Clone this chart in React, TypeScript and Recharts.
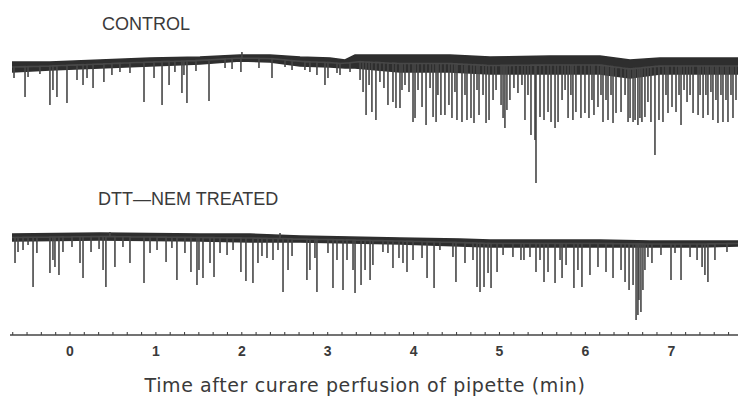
import React from 'react';
import { ComposedChart, Line, Area, XAxis, YAxis, Label } from 'recharts';

// Time is in seconds after curare perfusion of the pipette; current levels are
// in arbitrary units relative to each trace's holding level (down = inward).

// Noise envelope of the control record: [time s, upper level, lower level]
const CONTROL_BAND: [number, number, number][] = [
  [-40.5, 2, -8], [-14.0, 2, -6], [21.0, 4, -4], [55.9, 6, -2], [90.8, 7, 0],
  [118.7, 9, 3], [139.7, 9, 2], [160.7, 7, -2], [181.6, 6, -3], [192.1, 4, -4],
  [199.1, 9, -4], [230.5, 9, -8], [265.4, 9, -8], [293.4, 7, -10], [335.3, 8, -10],
  [370.2, 8, -10], [391.2, 4, -14], [412.1, 6, -10], [440.1, 6, -10], [466.6, 6, -10],
];

// Control events: [time s, peak level]
const CONTROL_EVENTS: [number, number][] = [
  [-39.1, -14], [-31.4, -33], [-29.3, -13], [-21.0, -10], [-14.0, -41], [-11.9, -26],
  [-9.1, -33], [-2.1, -39], [4.9, -16], [9.1, -21], [11.9, -14], [16.1, -24],
  [23.7, -18], [29.3, -11], [34.9, -8], [41.9, -9], [51.7, -38], [58.7, -14],
  [64.3, -41], [69.2, -21], [73.3, -8], [78.2, -29], [79.6, -11], [81.7, -39],
  [88.0, -7], [97.1, -37], [108.3, -4], [113.2, -5], [119.4, -8], [120.1, 12],
  [132.0, -4], [141.1, -14], [150.2, -3], [155.1, -6], [164.1, -6], [167.6, -8],
  [172.5, -11], [178.1, -21], [180.2, -14], [186.5, -9], [188.6, -11], [195.6, -8],
  [202.6, -16], [204.7, -28], [206.8, -51], [208.9, -21], [210.9, -48], [213.7, -56],
  [216.5, -18], [219.3, -24], [222.1, -41], [225.6, -38], [227.7, -44], [230.5, -44],
  [231.9, -26], [234.0, -21], [236.8, -28], [239.6, -58], [241.0, -54], [243.1, -26],
  [245.9, -43], [248.7, -61], [251.5, -24], [253.6, -53], [255.7, -58], [257.0, -31],
  [259.1, -51], [261.9, -51], [264.7, -41], [266.8, -54], [268.9, -28], [270.3, -56],
  [273.8, -58], [275.9, -31], [277.3, -56], [280.1, -54], [282.2, -59], [284.3, -26],
  [285.7, -51], [288.5, -31], [290.6, -59], [292.7, -56], [295.5, -36], [297.6, -26],
  [301.1, -41], [302.5, -54], [303.8, -64], [305.2, -46], [307.3, -36], [310.1, -24],
  [312.9, -29], [315.7, -21], [317.8, -56], [319.9, -31], [322.0, -71], [324.8, -76],
  [325.5, -119], [328.3, -53], [331.1, -56], [333.9, -48], [336.0, -58], [338.8, -64],
  [340.9, -58], [343.7, -36], [345.8, -26], [347.9, -54], [349.9, -31], [351.3, -56],
  [353.4, -48], [356.9, -54], [359.7, -49], [362.5, -54], [364.6, -36], [366.0, -51],
  [368.8, -43], [370.9, -31], [372.3, -58], [374.4, -36], [375.8, -56], [377.9, -31],
  [379.3, -59], [381.4, -49], [384.9, -48], [387.7, -31], [389.8, -58], [391.2, -54],
  [393.3, -58], [394.7, -56], [396.7, -61], [398.1, -54], [399.5, -58], [401.6, -53],
  [403.7, -38], [405.8, -58], [408.6, -91], [411.4, -56], [414.2, -58], [416.3, -31],
  [417.7, -49], [420.5, -43], [423.3, -48], [425.4, -31], [426.8, -61], [428.9, -26],
  [431.0, -38], [433.1, -31], [435.2, -49], [438.7, -51], [440.1, -31], [442.2, -54],
  [444.2, -31], [445.6, -51], [447.7, -28], [449.1, -56], [451.2, -36], [452.6, -59],
  [454.7, -31], [456.1, -58], [458.2, -36], [459.6, -58], [461.7, -31], [463.1, -54],
  [465.2, -36],
];

// Noise envelope of the DTT-NEM treated record: [time s, upper level, lower level]
const DTT_BAND: [number, number, number][] = [
  [-40.5, 5, -2], [21.0, 6, -1], [90.8, 5, -2], [125.7, 5, -3], [160.7, 3, -3],
  [230.5, 1, -5], [272.4, 0, -7], [293.4, -1, -8], [335.3, -1, -8], [370.2, -1, -8],
  [405.1, -2, -8], [440.1, -2, -8], [466.6, -2, -7],
];

// DTT-NEM treated events: [time s, peak level]
const DTT_EVENTS: [number, number][] = [
  [-38.4, -24], [-36.3, -13], [-32.8, -11], [-29.3, -6], [-25.8, -48], [-23.1, -14],
  [-14.0, -34], [-11.9, -21], [-10.5, -28], [-7.7, -36], [-4.9, -13], [1.4, -8],
  [7.0, -24], [9.1, -39], [14.7, -13], [20.3, -10], [23.1, -31], [25.1, -48],
  [27.9, 7], [31.4, -28], [37.0, -8], [41.9, -24], [51.7, -44], [55.9, -14],
  [60.8, -11], [67.1, -23], [71.2, -9], [74.7, -41], [80.3, -14], [84.5, -33],
  [88.7, -46], [90.1, -31], [92.9, -39], [97.8, -24], [100.6, -38], [104.8, -14],
  [109.7, -16], [113.9, -11], [119.4, -33], [122.9, -42], [127.8, -44], [131.3, -24],
  [134.1, -17], [137.6, -19], [141.8, -21], [145.3, -11], [146.7, 6], [148.8, -53],
  [152.3, -31], [155.1, -17], [165.5, -41], [167.6, -31], [171.1, -19], [172.5, -53],
  [180.2, -14], [183.7, -49], [186.5, -21], [190.7, -51], [193.5, -21], [197.7, -31],
  [199.1, -54], [203.3, -46], [206.1, -31], [209.6, -41], [211.6, -26], [218.6, -13],
  [222.1, -14], [225.6, -29], [229.8, -19], [232.6, -24], [235.4, -33], [239.6, -21],
  [245.9, -19], [249.4, -39], [254.3, -49], [258.4, -11], [267.5, -18], [269.6, -43],
  [275.9, -24], [281.5, -21], [284.3, -48], [286.4, -53], [289.2, -48], [292.0, -34],
  [294.1, -49], [298.3, -33], [302.5, -16], [309.4, -18], [315.0, -21], [317.1, -21],
  [321.3, -18], [325.5, -33], [328.3, -21], [331.1, -43], [333.9, -33], [338.8, -44],
  [342.3, -21], [343.7, -39], [346.5, -26], [352.0, -49], [354.8, -31], [357.6, -48],
  [363.2, -36], [368.8, -28], [374.4, -33], [379.3, -39], [384.9, -31], [387.7, -43],
  [390.5, -51], [393.3, -46], [395.4, -81], [396.7, -76], [397.4, -61], [398.8, -73],
  [400.2, -51], [401.6, -31], [403.7, -18], [406.5, -24], [412.8, -16], [419.8, -41],
  [422.6, -14], [426.8, -41], [433.1, -18], [438.0, -21], [441.5, -28], [443.5, -36],
  [445.6, -43], [450.5, -21], [458.9, -13],
];

const MINUTE_LABELS = [0, 1, 2, 3, 4, 5, 6, 7];
const TICK_STEP_S = 10;
const T_MIN = -41.9;
const T_MAX = 466.6;

const TRACE_COLOR = '#474747';
const BAND_COLOR = '#2e2e2e';
const TEXT_COLOR = '#3a3a3a';

const axisTicks: number[] = [];
for (let s = Math.ceil(T_MIN / TICK_STEP_S) * TICK_STEP_S; s <= T_MAX; s += TICK_STEP_S) {
  axisTicks.push(s);
}

function midLevel(band: [number, number, number][], t: number): number {
  if (t <= band[0][0]) return (band[0][1] + band[0][2]) / 2;
  for (let i = 1; i < band.length; i++) {
    const [t1, u1, l1] = band[i];
    if (t <= t1) {
      const [t0, u0, l0] = band[i - 1];
      const f = (t - t0) / (t1 - t0);
      return ((u0 + l0) / 2) * (1 - f) + ((u1 + l1) / 2) * f;
    }
  }
  const last = band[band.length - 1];
  return (last[1] + last[2]) / 2;
}

// Each event is drawn as an excursion from the holding level to its peak and back.
function buildTrace(band: [number, number, number][], events: [number, number][]) {
  const sorted = [...events].sort((a, b) => a[0] - b[0]);
  const start = band[0][0];
  const end = band[band.length - 1][0];
  const pts: { t: number; v: number }[] = [{ t: start, v: midLevel(band, start) }];
  for (const [t, peak] of sorted) {
    const base = midLevel(band, t);
    pts.push({ t, v: base }, { t, v: peak }, { t, v: base });
  }
  pts.push({ t: end, v: midLevel(band, end) });
  return pts;
}

function buildBand(band: [number, number, number][]) {
  return band.map(([t, upper, lower]) => ({ t, range: [lower, upper] }));
}

const controlTrace = buildTrace(CONTROL_BAND, CONTROL_EVENTS);
const controlBand = buildBand(CONTROL_BAND);
const dttTrace = buildTrace(DTT_BAND, DTT_EVENTS);
const dttBand = buildBand(DTT_BAND);

function MinuteTick(props: any) {
  const { x, y, payload } = props;
  const v = payload.value as number;
  const isMinute = v % 60 === 0 && MINUTE_LABELS.includes(v / 60);
  return (
    <g>
      <line x1={x} y1={y} x2={x} y2={y - 3} stroke="#444" strokeWidth={1.1} />
      {isMinute && (
        <text
          x={x}
          y={y + 21}
          textAnchor="middle"
          fontFamily="Liberation Sans, Arial, sans-serif"
          fontWeight="bold"
          fontSize={14}
          fill={TEXT_COLOR}
        >
          {v / 60}
        </text>
      )}
    </g>
  );
}

function AxisTitle(props: any) {
  const vb = props.viewBox || { x: 10, y: 335, width: 728, height: 64 };
  return (
    <text
      x={vb.x + vb.width / 2 - 9}
      y={vb.y + 57}
      textAnchor="middle"
      fontFamily="DejaVu Sans, Verdana, sans-serif"
      fontSize={19}
      letterSpacing={0.6}
      fill={TEXT_COLOR}
    >
      Time after curare perfusion of pipette (min)
    </text>
  );
}

export default function App() {
  return (
    <div style={{ position: 'absolute', left: 0, top: 0, width: 738, height: 399, background: '#fff' }}>
      <ComposedChart width={738} height={399} margin={{ top: 0, right: 0, bottom: 0, left: 10 }}>
        <XAxis
          dataKey="t"
          type="number"
          domain={[T_MIN, T_MAX]}
          allowDataOverflow
          ticks={axisTicks}
          interval={0}
          tickSize={0}
          tickMargin={0}
          tickLine={false}
          axisLine={{ stroke: '#444', strokeWidth: 1.3 }}
          tick={(p: any) => <MinuteTick {...p} />}
          height={64}
        >
          <Label content={AxisTitle} />
        </XAxis>
        <YAxis yAxisId="control" hide type="number" domain={[-271, 64]} allowDataOverflow />
        <YAxis yAxisId="dtt" hide type="number" domain={[-96, 239]} allowDataOverflow />
        <Area
          yAxisId="control"
          data={controlBand}
          dataKey="range"
          type="linear"
          stroke={BAND_COLOR}
          strokeWidth={1.5}
          fill={BAND_COLOR}
          fillOpacity={1}
          dot={false}
          activeDot={false}
          isAnimationActive={false}
        />
        <Line
          yAxisId="control"
          data={controlTrace}
          dataKey="v"
          type="linear"
          stroke={TRACE_COLOR}
          strokeWidth={1.6}
          dot={false}
          activeDot={false}
          isAnimationActive={false}
        />
        <Area
          yAxisId="dtt"
          data={dttBand}
          dataKey="range"
          type="linear"
          stroke={BAND_COLOR}
          strokeWidth={1.5}
          fill={BAND_COLOR}
          fillOpacity={1}
          dot={false}
          activeDot={false}
          isAnimationActive={false}
        />
        <Line
          yAxisId="dtt"
          data={dttTrace}
          dataKey="v"
          type="linear"
          stroke={TRACE_COLOR}
          strokeWidth={1.6}
          dot={false}
          activeDot={false}
          isAnimationActive={false}
        />
      </ComposedChart>
      <svg
        width={738}
        height={399}
        style={{ position: 'absolute', left: 0, top: 0, pointerEvents: 'none' }}
      >
        <text x={102} y={30} fontFamily="Liberation Sans, Arial, sans-serif" fontSize={18} fill={TEXT_COLOR}>
          CONTROL
        </text>
        <text x={98} y={205} fontFamily="Liberation Sans, Arial, sans-serif" fontSize={18} fill={TEXT_COLOR}>
          DTT—NEM TREATED
        </text>
      </svg>
    </div>
  );
}
